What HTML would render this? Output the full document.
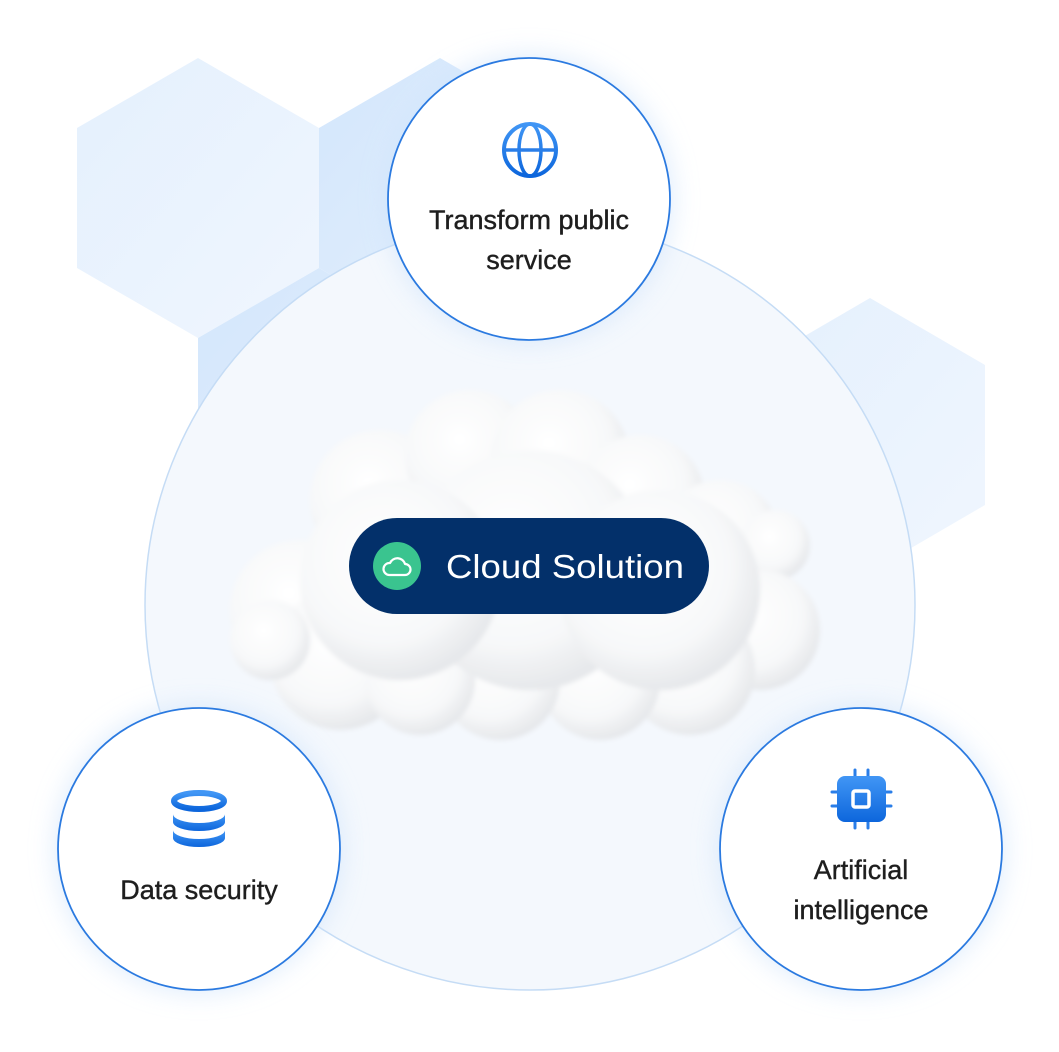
<!DOCTYPE html>
<html><head><meta charset="utf-8"><style>
html,body{margin:0;padding:0;background:#fff;}
body{width:1059px;height:1047px;overflow:hidden;font-family:"Liberation Sans",sans-serif;}
</style></head><body>
<svg width="1059" height="1047" viewBox="0 0 1059 1047" xmlns="http://www.w3.org/2000/svg">
<defs>
<linearGradient id="hx" x1="0" y1="0" x2="1" y2="1"><stop offset="0" stop-color="#e4f0fd"/><stop offset="1" stop-color="#f0f6fe"/></linearGradient>
<linearGradient id="hx2" x1="0" y1="0" x2="1" y2="1"><stop offset="0" stop-color="#d3e6fc"/><stop offset="1" stop-color="#e6f1fd"/></linearGradient>
<radialGradient id="cg" cx="0.42" cy="0.38" r="0.62"><stop offset="0" stop-color="#ffffff"/><stop offset="0.7" stop-color="#f7f8f9"/><stop offset="1" stop-color="#e6e8eb"/></radialGradient>
<linearGradient id="ic" x1="0" y1="0" x2="0" y2="1"><stop offset="0" stop-color="#4196f5"/><stop offset="1" stop-color="#0d66dc"/></linearGradient>
<filter id="gl" x="-30%" y="-30%" width="160%" height="160%"><feGaussianBlur stdDeviation="14"/></filter>
<filter id="cb"><feGaussianBlur stdDeviation="2.5"/></filter>
</defs>
<polygon points="198,58 319,128 319,268 198,338 77,268 77,128" fill="url(#hx)"/>
<polygon points="440,58 561,128 561,268 440,338 319,268 319,128" fill="url(#hx2)"/>
<polygon points="319,268 440,338 440,478 319,548 198,478 198,338" fill="url(#hx2)"/>
<polygon points="870,298 985,365 985,505 870,572 755,505 755,365" fill="url(#hx)"/>
<circle cx="530" cy="605" r="385" fill="#f4f8fd" stroke="#c5dcf5" stroke-width="1.5"/>
<g filter="url(#cb)">
<circle cx="300" cy="610" r="70" fill="url(#cg)"/>
<circle cx="340" cy="660" r="70" fill="url(#cg)"/>
<circle cx="270" cy="640" r="40" fill="url(#cg)"/>
<circle cx="380" cy="500" r="70" fill="url(#cg)"/>
<circle cx="470" cy="455" r="65" fill="url(#cg)"/>
<circle cx="560" cy="460" r="70" fill="url(#cg)"/>
<circle cx="640" cy="500" r="65" fill="url(#cg)"/>
<circle cx="720" cy="540" r="60" fill="url(#cg)"/>
<circle cx="775" cy="545" r="35" fill="url(#cg)"/>
<circle cx="760" cy="630" r="60" fill="url(#cg)"/>
<circle cx="690" cy="670" r="65" fill="url(#cg)"/>
<circle cx="600" cy="680" r="60" fill="url(#cg)"/>
<circle cx="500" cy="680" r="60" fill="url(#cg)"/>
<circle cx="420" cy="680" r="55" fill="url(#cg)"/>
<circle cx="530" cy="570" r="120" fill="url(#cg)"/>
<circle cx="400" cy="580" r="100" fill="url(#cg)"/>
<circle cx="660" cy="590" r="100" fill="url(#cg)"/>
</g>
<rect x="349" y="518" width="360" height="96" rx="48" fill="#03306a"/>
<circle cx="397" cy="566" r="24" fill="#3ac48f"/>
<path d="M389 575 h16 a5.5 5.5 0 0 0 0-11 a8 8 0 0 0-15-1 a6 6 0 0 0-1 12z" fill="none" stroke="#fff" stroke-width="2.2" stroke-linejoin="round"/>
<text x="446" y="578" font-size="33" fill="#fff" textLength="238" lengthAdjust="spacingAndGlyphs">Cloud Solution</text>
<g>
<circle cx="529" cy="199" r="141" fill="#cfe3fb" opacity="0.8" filter="url(#gl)"/>
<circle cx="529" cy="199" r="141" fill="#fff" stroke="#2b7ae0" stroke-width="1.8"/>
<circle cx="530" cy="150" r="26" fill="none" stroke="url(#ic)" stroke-width="4"/>
<ellipse cx="530" cy="150" rx="11" ry="26" fill="none" stroke="url(#ic)" stroke-width="3.5"/>
<line x1="504" y1="150" x2="556" y2="150" stroke="#2a7ee8" stroke-width="3.5"/>
<text x="529" y="229" text-anchor="middle" font-size="27" fill="#1e1e1e" stroke="#1e1e1e" stroke-width="0.4">Transform public</text>
<text x="529" y="269" text-anchor="middle" font-size="27" fill="#1e1e1e" stroke="#1e1e1e" stroke-width="0.4">service</text>
</g>
<g>
<circle cx="199" cy="849" r="141" fill="#cfe3fb" opacity="0.8" filter="url(#gl)"/>
<circle cx="199" cy="849" r="141" fill="#fff" stroke="#2b7ae0" stroke-width="1.8"/>
<ellipse cx="199" cy="801" rx="25" ry="8" fill="none" stroke="url(#ic)" stroke-width="6"/>
<path d="M173 814 v8 a26 9 0 0 0 52 0 v-8 a26 9 0 0 1-52 0z" fill="url(#ic)"/>
<path d="M173 830 v8 a26 9 0 0 0 52 0 v-8 a26 9 0 0 1-52 0z" fill="url(#ic)"/>
<text x="199" y="899" text-anchor="middle" font-size="27" fill="#1e1e1e" stroke="#1e1e1e" stroke-width="0.4">Data security</text>
</g>
<g>
<circle cx="861" cy="849" r="141" fill="#cfe3fb" opacity="0.8" filter="url(#gl)"/>
<circle cx="861" cy="849" r="141" fill="#fff" stroke="#2b7ae0" stroke-width="1.8"/>
<g stroke="#2a7ee8" stroke-width="3" stroke-linecap="round">
<line x1="855" y1="770" x2="855" y2="778"/><line x1="868" y1="770" x2="868" y2="778"/>
<line x1="855" y1="820" x2="855" y2="828"/><line x1="868" y1="820" x2="868" y2="828"/>
<line x1="832" y1="792" x2="838" y2="792"/><line x1="832" y1="806" x2="838" y2="806"/>
<line x1="885" y1="792" x2="891" y2="792"/><line x1="885" y1="806" x2="891" y2="806"/>
</g>
<rect x="837" y="776" width="49" height="46" rx="8" fill="url(#ic)"/>
<rect x="853" y="791" width="16" height="16" rx="2" fill="none" stroke="#fff" stroke-width="3.5"/>
<text x="861" y="879" text-anchor="middle" font-size="27" fill="#1e1e1e" stroke="#1e1e1e" stroke-width="0.4">Artificial</text>
<text x="861" y="919" text-anchor="middle" font-size="27" fill="#1e1e1e" stroke="#1e1e1e" stroke-width="0.4">intelligence</text>
</g>
</svg>
</body></html>
